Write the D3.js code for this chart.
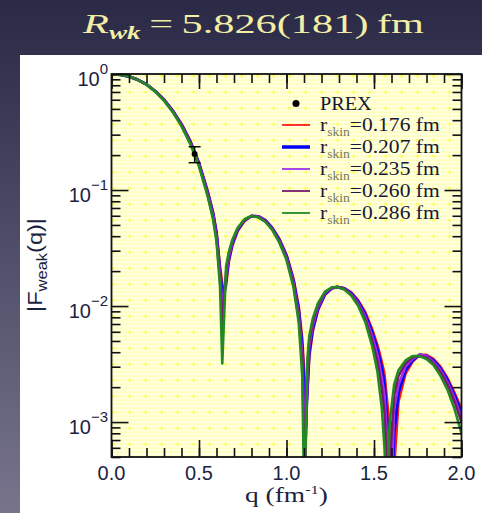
<!DOCTYPE html>
<html>
<head>
<meta charset="utf-8">
<script src="https://cdn.jsdelivr.net/npm/d3@7"></script>
<style>
  html, body { margin: 0; padding: 0; overflow: hidden; background: #2c2b48; }
</style>
</head>
<body>
<div id="chart"></div>
<script>
// q grid (fm^-1) shared by every curve
const qGrid = [0, 0.05, 0.10, 0.15, 0.20, 0.25, 0.30, 0.35, 0.40, 0.45,
  0.50, 0.55, 0.58, 0.60, 0.62, 0.655, 0.67, 0.69, 0.72, 0.76,
  0.80, 0.84, 0.88, 0.92, 0.96, 1.00, 1.04, 1.07, 1.09, 1.12,
  1.13, 1.15, 1.18, 1.22, 1.26, 1.29, 1.33, 1.37, 1.41, 1.45,
  1.49, 1.52, 1.545, 1.56, 1.59, 1.615, 1.64, 1.68, 1.72, 1.76,
  1.80, 1.84, 1.88, 1.92, 1.96, 2.00];

// |F_weak(q)|, one array per skin thickness
const fRed = [1, 0.987, 0.951, 0.893, 0.815, 0.714, 0.603, 0.485, 0.371, 0.266,
  0.172, 0.098, 0.065, 0.044, 0.022, 0.015, 0.024, 0.033, 0.044, 0.054,
  0.0597, 0.0595, 0.055, 0.047, 0.0377, 0.0277, 0.0172, 0.0099, 0.0052, 0.0018,
  0.0036, 0.0060, 0.0092, 0.0125, 0.0142, 0.0146, 0.0143, 0.0131, 0.0112, 0.0089,
  0.0063, 0.0046, 0.0033, 0.0026, 0.0009, 0.0004, 0.0015, 0.0026, 0.0033, 0.0038,
  0.0038, 0.0035, 0.0030, 0.0024, 0.0018, 0.0013];
const fBlue = [1, 0.987, 0.951, 0.892, 0.814, 0.712, 0.600, 0.481, 0.367, 0.262,
  0.169, 0.095, 0.063, 0.042, 0.020, 0.017, 0.025, 0.034, 0.045, 0.055,
  0.0597, 0.059, 0.0545, 0.0465, 0.037, 0.027, 0.0165, 0.0092, 0.0045, 0.0021,
  0.0040, 0.0064, 0.0095, 0.0127, 0.0143, 0.0146, 0.0142, 0.0129, 0.0109, 0.0085,
  0.0059, 0.0042, 0.0029, 0.0021, 0.0005, 0.0008, 0.0018, 0.0028, 0.0034, 0.0038,
  0.0037, 0.0034, 0.0029, 0.0023, 0.0017, 0.0012];
const fViolet = [1, 0.987, 0.951, 0.892, 0.813, 0.710, 0.597, 0.478, 0.363, 0.258,
  0.166, 0.093, 0.061, 0.040, 0.019, 0.018, 0.026, 0.035, 0.046, 0.055,
  0.0597, 0.059, 0.054, 0.046, 0.0363, 0.0264, 0.0159, 0.0086, 0.0039, 0.0025,
  0.0045, 0.0068, 0.0098, 0.0129, 0.0143, 0.0146, 0.0141, 0.0127, 0.0106, 0.0081,
  0.0055, 0.0038, 0.0024, 0.0017, 0.0003, 0.0013, 0.0021, 0.0030, 0.0035, 0.0038,
  0.0037, 0.0033, 0.0028, 0.0022, 0.0016, 0.0011];
const fPurple = [1, 0.987, 0.950, 0.891, 0.811, 0.708, 0.594, 0.474, 0.359, 0.254,
  0.163, 0.090, 0.058, 0.038, 0.017, 0.020, 0.028, 0.036, 0.046, 0.055,
  0.0597, 0.0585, 0.0535, 0.0455, 0.0357, 0.0257, 0.0152, 0.0079, 0.0032, 0.0030,
  0.0050, 0.0073, 0.0102, 0.0131, 0.0144, 0.0146, 0.0140, 0.0125, 0.0103, 0.0077,
  0.0050, 0.0033, 0.0019, 0.0012, 0.00045, 0.0017, 0.0025, 0.0032, 0.0036, 0.0037,
  0.0036, 0.0032, 0.0027, 0.0021, 0.0015, 0.0010];
const fGreen = [1, 0.987, 0.950, 0.890, 0.810, 0.705, 0.590, 0.470, 0.355, 0.250,
  0.160, 0.088, 0.056, 0.036, 0.015, 0.022, 0.029, 0.037, 0.047, 0.056,
  0.0597, 0.058, 0.053, 0.045, 0.035, 0.025, 0.0145, 0.0072, 0.0025, 0.0036,
  0.0055, 0.0078, 0.0106, 0.0133, 0.0145, 0.0146, 0.0139, 0.0123, 0.0100, 0.0073,
  0.0045, 0.0027, 0.0013, 0.0006, 0.0010, 0.0021, 0.0028, 0.0034, 0.0037, 0.0037,
  0.0035, 0.0031, 0.0025, 0.0019, 0.0013, 0.0008];

// sampled bottoms of the diffraction minima [q, |F|]
const dipRed = [[0.640, 0.013], [1.113, 0.0014], [1.608, 0.0002]];
const dipBlue = [[0.638, 0.011], [1.110, 0.0009], [1.600, 0.0002]];
const dipViolet = [[0.637, 0.009], [1.107, 0.0005], [1.592, 0.0001]];
const dipPurple = [[0.635, 0.007], [1.105, 0.0003], [1.582, 0.0002]];
const dipGreen = [[0.633, 0.0032], [1.102, 0.0002], [1.572, 0.0002]];

const skinLabels = ['0.176', '0.207', '0.235', '0.260', '0.286'];
const seriesColors = ['#ff1a1a', '#0000ff', '#a030f0', '#7a1a6e', '#238a23'];

// PREX point
const prexQ = 0.475;
const prexF = 0.204;
const prexErr = 0.032;

const xTickLabels = ['0.0', '0.5', '1.0', '1.5', '2.0'];
const yDecades = [1, 0.1, 0.01, 0.001];
const yExponents = ['0', '\u22121', '\u22122', '\u22123'];

const W = 482, H = 513;
const plot = { left: 111.5, right: 461.5, top: 74, bottom: 457 };
const sans = 'Liberation Sans, Arial, Helvetica, sans-serif';
const serif = 'Liberation Serif, Times New Roman, Times, serif';
const labelColor = '#1c2340';

const svg = d3.select('#chart').append('svg')
  .attr('width', W).attr('height', H);

const defs = svg.append('defs');
const bg = defs.append('linearGradient').attr('id', 'bg')
  .attr('x1', 0).attr('y1', 0).attr('x2', 0).attr('y2', 1);
bg.append('stop').attr('offset', '0%').attr('stop-color', '#2a2946');
bg.append('stop').attr('offset', '100%').attr('stop-color', '#77748c');

// dotted yellow paper of the plot area
const dots = defs.append('pattern').attr('id', 'dots')
  .attr('patternUnits', 'userSpaceOnUse')
  .attr('x', plot.left).attr('y', plot.top)
  .attr('width', 16).attr('height', 16);
dots.append('rect').attr('width', 16).attr('height', 16).attr('fill', '#ffffde');
[0, 4, 8, 12].forEach(a => [0, 4, 8, 12].forEach(b => {
  dots.append('rect').attr('x', a + 1.5).attr('y', b + 1.5)
    .attr('width', 1.5).attr('height', 1.5).attr('fill', '#ffff84');
}));
dots.append('rect').attr('x', 1).attr('y', 1).attr('width', 2.5).attr('height', 2.5).attr('fill', '#ffff30');

defs.append('clipPath').attr('id', 'plotClip')
  .append('rect')
  .attr('x', plot.left).attr('y', plot.top)
  .attr('width', plot.right - plot.left).attr('height', plot.bottom - plot.top);

// backdrop and white card
svg.append('rect').attr('width', W).attr('height', H).attr('fill', 'url(#bg)');
svg.append('rect').attr('x', 20).attr('y', 55).attr('width', W - 20).attr('height', H - 55).attr('fill', '#ffffff');

// squeeze/stretch a text horizontally so it spans the wanted width
function fitText(sel, cx, cy, width, rotate) {
  const w = sel.node().getBBox().width;
  const s = width / w;
  sel.attr('transform', `translate(${cx},${cy})` + (rotate ? ` rotate(${rotate})` : '') + ` scale(${s},1)`);
}

// title
const title = svg.append('text')
  .attr('text-anchor', 'middle')
  .attr('font-family', serif)
  .attr('font-size', 28)
  .attr('fill', '#f2eea6');
title.append('tspan').attr('font-style', 'italic').text('R');
title.append('tspan').attr('font-style', 'italic').attr('font-weight', 'bold')
  .attr('font-size', 18).attr('dy', 6).text('wk');
title.append('tspan').attr('dy', -6).text('\u2009=\u20095.826(181)\u2009fm');
fitText(title, 253.5, 33, 343);

// scales
const x = d3.scaleLinear().domain([0, 2]).range([plot.left, plot.right]);
const y = d3.scaleLog().domain([5e-4, 1]).range([plot.bottom, plot.top]);

svg.append('rect')
  .attr('x', plot.left).attr('y', plot.top)
  .attr('width', plot.right - plot.left).attr('height', plot.bottom - plot.top)
  .attr('fill', 'url(#dots)');

// curves
const fSeries = [fRed, fBlue, fViolet, fPurple, fGreen];
const dipSeries = [dipRed, dipBlue, dipViolet, dipPurple, dipGreen];
const series = fSeries.map((vals, i) => {
  const pts = qGrid.map((q, j) => ({ q, f: vals[j] }))
    .concat(dipSeries[i].map(d => ({ q: d[0], f: d[1] })));
  pts.sort((a, b) => a.q - b.q);
  return { color: seriesColors[i], label: skinLabels[i], pts, width: i === 1 ? 3 : 2.6 };
});

const line = d3.line().x(d => x(d.q)).y(d => y(d.f));
const curves = svg.append('g').attr('clip-path', 'url(#plotClip)');
series.forEach(s => {
  curves.append('path')
    .attr('d', line(s.pts))
    .attr('fill', 'none')
    .attr('stroke', s.color)
    .attr('stroke-width', s.width)
    .attr('stroke-linejoin', 'round');
});

// PREX with error bar
const px = x(prexQ);
const prex = svg.append('g').attr('stroke', '#000').attr('stroke-width', 1.4);
prex.append('line').attr('x1', px).attr('x2', px).attr('y1', y(prexF + prexErr)).attr('y2', y(prexF - prexErr));
prex.append('line').attr('x1', px - 6).attr('x2', px + 6).attr('y1', y(prexF + prexErr)).attr('y2', y(prexF + prexErr));
prex.append('line').attr('x1', px - 6).attr('x2', px + 6).attr('y1', y(prexF - prexErr)).attr('y2', y(prexF - prexErr));
svg.append('circle').attr('cx', px).attr('cy', y(prexF)).attr('r', 3).attr('fill', '#000');

// axes: inward ticks on all four sides
const xMinor = x.ticks(20);
const xMajor = x.ticks(4);
const yAll = y.ticks();
const isDecade = v => Math.abs(Math.log10(v) - Math.round(Math.log10(v))) < 1e-9;
const yMinor = yAll.filter(v => !isDecade(v));
const yMajor = yAll.filter(isDecade);

function drawAxis(axis, tx, ty) {
  const g = svg.append('g').attr('transform', `translate(${tx},${ty})`).call(axis);
  g.select('.domain').remove();
  g.selectAll('line').attr('stroke', '#111').attr('stroke-width', 1.6);
  g.selectAll('text').remove();
}
drawAxis(d3.axisBottom(x).tickValues(xMinor).tickSize(-9), 0, plot.bottom);
drawAxis(d3.axisBottom(x).tickValues(xMajor).tickSize(-17), 0, plot.bottom);
drawAxis(d3.axisTop(x).tickValues(xMinor).tickSize(-9), 0, plot.top);
drawAxis(d3.axisTop(x).tickValues(xMajor).tickSize(-15), 0, plot.top);
drawAxis(d3.axisLeft(y).tickValues(yMinor).tickSize(-9), plot.left, 0);
drawAxis(d3.axisLeft(y).tickValues(yMajor).tickSize(-17), plot.left, 0);
drawAxis(d3.axisRight(y).tickValues(yMinor).tickSize(-9), plot.right, 0);
drawAxis(d3.axisRight(y).tickValues(yMajor).tickSize(-17), plot.right, 0);

svg.append('rect')
  .attr('x', plot.left).attr('y', plot.top)
  .attr('width', plot.right - plot.left).attr('height', plot.bottom - plot.top)
  .attr('fill', 'none').attr('stroke', '#111').attr('stroke-width', 1.8);

// tick labels
xMajor.forEach((v, i) => {
  svg.append('text')
    .attr('x', x(v)).attr('y', 480)
    .attr('text-anchor', 'middle')
    .attr('font-family', sans).attr('font-size', 20)
    .attr('fill', labelColor)
    .text(xTickLabels[i]);
});
yDecades.forEach((v, i) => {
  const t = svg.append('text')
    .attr('x', 108).attr('y', y(v) + 12)
    .attr('text-anchor', 'end')
    .attr('font-family', sans).attr('font-size', 20)
    .attr('fill', labelColor);
  t.append('tspan').text('10');
  t.append('tspan').attr('font-size', 15).attr('dy', -12).text(yExponents[i]);
});

// axis titles
const xTitle = svg.append('text')
  .attr('text-anchor', 'middle')
  .attr('font-family', serif).attr('font-size', 20)
  .attr('fill', labelColor);
xTitle.append('tspan').text('q (fm');
xTitle.append('tspan').attr('font-size', 12).attr('dy', -8).text('-1');
xTitle.append('tspan').attr('dy', 8).text(')');
fitText(xTitle, 286.5, 502, 83);

const yTitle = svg.append('text')
  .attr('text-anchor', 'middle')
  .attr('font-family', sans).attr('font-size', 20)
  .attr('fill', labelColor);
yTitle.append('tspan').text('|F');
yTitle.append('tspan').attr('font-size', 14).attr('dy', 5).text('weak');
yTitle.append('tspan').attr('dy', -5).text('(q)|');
fitText(yTitle, 42, 265, 94, -90);

// legend
const leg = svg.append('g');
leg.append('circle').attr('cx', 296).attr('cy', 103.5).attr('r', 3.5).attr('fill', '#000');
const prexText = leg.append('text')
  .attr('font-family', serif).attr('font-size', 19).attr('fill', '#161638')
  .text('PREX');
fitText(prexText, 320, 110, 52);
series.forEach((s, i) => {
  const ly = 125 + i * 22;
  leg.append('line')
    .attr('x1', 282).attr('x2', 310).attr('y1', ly).attr('y2', ly)
    .attr('stroke', s.color).attr('stroke-width', i === 1 ? 3.5 : 1.8);
  const t = leg.append('text')
    .attr('font-family', serif).attr('font-size', 19).attr('fill', '#161638');
  t.append('tspan').text('r');
  t.append('tspan').attr('font-size', 12).attr('dy', 5).attr('fill', '#77775a').text('skin');
  t.append('tspan').attr('dy', -5).text('=' + s.label + ' fm');
  fitText(t, 320, ly + 6, 120);
});
</script>
</body>
</html>
